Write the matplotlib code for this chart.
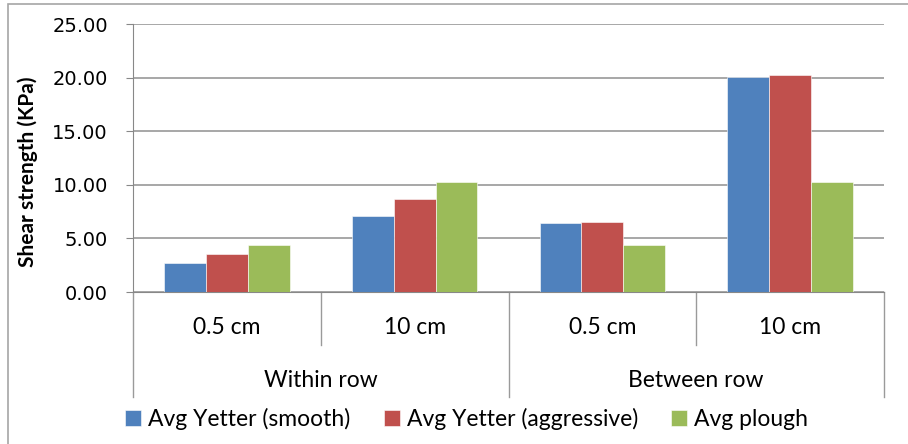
import matplotlib
matplotlib.use("Agg")
import matplotlib.pyplot as plt
from matplotlib.patches import Rectangle
import numpy as np

# data
depths = ["0.5 cm", "10 cm", "0.5 cm", "10 cm"]
groups = ["Within row", "Between row"]
series = ["Avg Yetter (smooth)", "Avg Yetter (aggressive)", "Avg plough"]
smooth = [2.70, 7.13, 6.44, 20.08]
aggressive = [3.57, 8.66, 6.56, 20.28]
plough = [4.35, 10.30, 4.35, 10.30]
colors = ["#4F81BD", "#C0504D", "#9BBB59"]
yticks = [0, 5, 10, 15, 20, 25]

W, H = 908, 444
fig = plt.figure(figsize=(W / 100, H / 100), dpi=100)

# chart area border (cut off on the right and bottom like the reference)
fig.patches.append(Rectangle((8 / W, -0.1), 1.0, 1.1 - 4 / H, transform=fig.transFigure,
                             fill=False, edgecolor="#A6A6A6", linewidth=1.2))

ax = fig.add_axes([133 / W, 1 - 292 / H, (884 - 133) / W, (292 - 24) / H])

x = np.arange(len(depths))
w = 0.223
for i, (vals, name) in enumerate(zip([smooth, aggressive, plough], series)):
    ax.bar(x + (i - 1) * w, vals, w, color=colors[i], label=name,
           edgecolor="white", linewidth=0.4, zorder=3)

ax.set_xlim(-0.5, len(depths) - 0.5)
ax.set_ylim(0, 25)
ax.set_yticks(yticks)
ax.set_yticklabels(["%.2f" % v for v in yticks], fontsize=14, family="DejaVu Sans")
ax.yaxis.grid(True, color="#A0A0A0", linewidth=1.3, zorder=0)
ax.tick_params(axis="y", length=5, color="#888888", pad=13)
ax.set_xticks([])
for s in ["top", "right"]:
    ax.spines[s].set_visible(False)
ax.spines["left"].set_color("#888888")
ax.spines["bottom"].set_color("#888888")

ax.set_ylabel("Shear strength (KPa)", fontsize=15, fontweight="bold", family="Lato")
ax.yaxis.label.set_va("center")
ax.yaxis.set_label_coords((28 - 133) / 751, (292 - 171.5) / 268)

# multi-level category axis
tr = ax.get_xaxis_transform()
lc = "#9A9A9A"
for b in np.arange(-0.5, len(depths), 1.0):
    outer = b in (-0.5, 1.5, len(depths) - 0.5)
    ax.plot([b, b], [0, -0.392 if outer else -0.198], transform=tr, color=lc,
            linewidth=1, clip_on=False)
for xi, lab in zip(x, depths):
    ax.text(xi, -0.134, lab, transform=tr, ha="center", va="center",
            fontsize=16.5, family="Lato")
for gi, lab in enumerate(groups):
    ax.text(gi * 2 + 0.5, -0.332, lab, transform=tr, ha="center", va="center",
            fontsize=16.5, family="Lato")

fig.legend(loc="center", bbox_to_anchor=(0.514, 1 - 419 / H), ncol=3, frameon=False,
           prop={"family": "Lato", "size": 16.5}, handlelength=0.7, handleheight=0.7,
           handletextpad=0.3, columnspacing=1.45)

fig.savefig("out.png", dpi=100)
